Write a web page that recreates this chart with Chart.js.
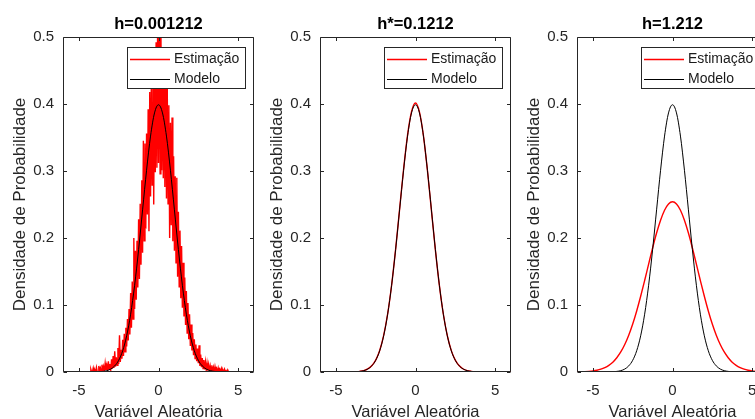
<!DOCTYPE html>
<html>
<head>
<meta charset="utf-8">
<script src="https://cdn.jsdelivr.net/npm/chart.js@4.4.1/dist/chart.umd.min.js"></script>
<style>
  html, body { margin: 0; padding: 0; background: #fff; }
  body { width: 755px; height: 419px; overflow: hidden; position: relative; }
  canvas { position: absolute; top: 0; }
</style>
</head>
<body>
<canvas id="c1" width="260" height="430" style="left:0px"></canvas>
<canvas id="c2" width="260" height="430" style="left:257px"></canvas>
<canvas id="c3" width="260" height="430" style="left:514px"></canvas>
<script>
// panel titles and legend names
const titles = ['h=0.001212', 'h*=0.1212', 'h=1.212'];
const seriesNames = ['Estimação', 'Modelo'];

// ticks
const xTicks = [-5, 0, 5];
const xTickLabels = ['-5', '0', '5'];
const yTicks = [0, 0.1, 0.2, 0.3, 0.4, 0.5];
const yTickLabels = ['0', '0.1', '0.2', '0.3', '0.4', '0.5'];

// coarse grid used by the smooth curves
const xGrid = [-6, -5.75, -5.5, -5.25, -5, -4.75, -4.5, -4.25, -4, -3.75, -3.5, -3.25,
  -3, -2.75, -2.5, -2.25, -2, -1.75, -1.5, -1.25, -1, -0.75, -0.5, -0.25, 0,
  0.25, 0.5, 0.75, 1, 1.25, 1.5, 1.75, 2, 2.25, 2.5, 2.75, 3, 3.25, 3.5, 3.75,
  4, 4.25, 4.5, 4.75, 5, 5.25, 5.5, 5.75, 6];

// Modelo (same curve in all three panels)
const modelPdf = [0, 0, 0, 0, 0, 0, 0, 0, 0.0001, 0.0004, 0.0009, 0.0020,
  0.0044, 0.0091, 0.0175, 0.0317, 0.0540, 0.0863, 0.1295, 0.1826, 0.2420, 0.3011, 0.3521, 0.3867, 0.3989,
  0.3867, 0.3521, 0.3011, 0.2420, 0.1826, 0.1295, 0.0863, 0.0540, 0.0317, 0.0175, 0.0091, 0.0044, 0.0020, 0.0009, 0.0004,
  0.0001, 0, 0, 0, 0, 0, 0, 0, 0];

// Estimação, h*=0.1212
const estimMid = [0, 0, 0, 0, 0, 0, 0, 0, 0.0002, 0.0005, 0.0010, 0.0021,
  0.0046, 0.0094, 0.0178, 0.0321, 0.0546, 0.0866, 0.1298, 0.1830, 0.2428, 0.3022, 0.3535, 0.3885, 0.4015,
  0.3880, 0.3525, 0.3008, 0.2412, 0.1820, 0.1292, 0.0862, 0.0541, 0.0319, 0.0177, 0.0093, 0.0045, 0.0021, 0.0010, 0.0004,
  0.0002, 0, 0, 0, 0, 0, 0, 0, 0];

// Estimação, h=1.212
const estimWide = [0.0002, 0.0003, 0.0006, 0.0010, 0.0016, 0.0026, 0.0042, 0.0066, 0.0100, 0.0147, 0.0213, 0.0299,
  0.0410, 0.0549, 0.0716, 0.0911, 0.1130, 0.1366, 0.1610, 0.1851, 0.2074, 0.2266, 0.2415, 0.2508, 0.2540,
  0.2508, 0.2415, 0.2266, 0.2074, 0.1851, 0.1610, 0.1366, 0.1130, 0.0911, 0.0716, 0.0549, 0.0410, 0.0299, 0.0213, 0.0147,
  0.0100, 0.0066, 0.0042, 0.0026, 0.0016, 0.0010, 0.0006, 0.0003, 0.0002];

// fine grid for the noisy estimate
const xFine = [
  -4.30, -4.25, -4.20, -4.15, -4.10, -4.05, -4.00, -3.95, -3.90, -3.85,
  -3.80, -3.75, -3.70, -3.65, -3.60, -3.55, -3.50, -3.45, -3.40, -3.35,
  -3.30, -3.25, -3.20, -3.15, -3.10, -3.05, -3.00, -2.95, -2.90, -2.85,
  -2.80, -2.75, -2.70, -2.65, -2.60, -2.55, -2.50, -2.45, -2.40, -2.35,
  -2.30, -2.25, -2.20, -2.15, -2.10, -2.05, -2.00, -1.95, -1.90, -1.85,
  -1.80, -1.75, -1.70, -1.65, -1.60, -1.55, -1.50, -1.45, -1.40, -1.35,
  -1.30, -1.25, -1.20, -1.15, -1.10, -1.05, -1.00, -0.95, -0.90, -0.85,
  -0.80, -0.75, -0.70, -0.65, -0.60, -0.55, -0.50, -0.45, -0.40, -0.35,
  -0.30, -0.25, -0.20, -0.15, -0.10, -0.05, 0.00, 0.05, 0.10, 0.15,
  0.20, 0.25, 0.30, 0.35, 0.40, 0.45, 0.50, 0.55, 0.60, 0.65,
  0.70, 0.75, 0.80, 0.85, 0.90, 0.95, 1.00, 1.05, 1.10, 1.15,
  1.20, 1.25, 1.30, 1.35, 1.40, 1.45, 1.50, 1.55, 1.60, 1.65,
  1.70, 1.75, 1.80, 1.85, 1.90, 1.95, 2.00, 2.05, 2.10, 2.15,
  2.20, 2.25, 2.30, 2.35, 2.40, 2.45, 2.50, 2.55, 2.60, 2.65,
  2.70, 2.75, 2.80, 2.85, 2.90, 2.95, 3.00, 3.05, 3.10, 3.15,
  3.20, 3.25, 3.30, 3.35, 3.40, 3.45, 3.50, 3.55, 3.60, 3.65,
  3.70, 3.75, 3.80, 3.85, 3.90, 3.95, 4.00, 4.05, 4.10, 4.15,
  4.20, 4.25, 4.30, 4.35, 4.40];

// Estimação, h=0.001212 (very noisy)
const estimNarrow = [
  0.000, 0.004, 0.000, 0.000, 0.006, 0.000, 0.003, 0.000, 0.007, 0.001,
  0.000, 0.009, 0.002, 0.006, 0.001, 0.011, 0.002, 0.008, 0.001, 0.013,
  0.003, 0.010, 0.002, 0.016, 0.004, 0.012, 0.003, 0.019, 0.005, 0.024,
  0.006, 0.031, 0.008, 0.022, 0.010, 0.036, 0.012, 0.055, 0.015, 0.033,
  0.020, 0.048, 0.024, 0.057, 0.030, 0.066, 0.038, 0.079, 0.047, 0.094,
  0.056, 0.118, 0.066, 0.135, 0.079, 0.200, 0.094, 0.181, 0.108, 0.196,
  0.126, 0.228, 0.139, 0.251, 0.160, 0.286, 0.178, 0.345, 0.196, 0.341,
  0.214, 0.356, 0.235, 0.392, 0.210, 0.418, 0.262, 0.437, 0.279, 0.455,
  0.250, 0.478, 0.298, 0.492, 0.305, 0.546, 0.312, 0.562, 0.296, 0.521,
  0.301, 0.470, 0.289, 0.462, 0.276, 0.470, 0.259, 0.426, 0.251, 0.398,
  0.200, 0.372, 0.219, 0.380, 0.195, 0.322, 0.181, 0.292, 0.163, 0.290,
  0.142, 0.239, 0.127, 0.211, 0.110, 0.188, 0.096, 0.163, 0.083, 0.141,
  0.070, 0.121, 0.058, 0.103, 0.049, 0.086, 0.039, 0.071, 0.032, 0.058,
  0.025, 0.049, 0.020, 0.041, 0.016, 0.035, 0.013, 0.040, 0.009, 0.026,
  0.007, 0.021, 0.005, 0.018, 0.004, 0.015, 0.003, 0.013, 0.002, 0.011,
  0.002, 0.009, 0.001, 0.010, 0.001, 0.007, 0.000, 0.008, 0.001, 0.005,
  0.000, 0.006, 0.000, 0.004, 0.000, 0.005, 0.000, 0.003, 0.000, 0.004,
  0.000, 0.002, 0.000, 0.003, 0.000];

const fontFamily = "'Liberation Sans', Arial, Helvetica, sans-serif";
const axisColor = '#262626';
Chart.defaults.font.family = fontFamily;

function toPoints(xs, ys) {
  return xs.map((x, i) => ({ x: x, y: ys[i] }));
}

// box around the axes + inward ticks on all four sides (matlab look)
const frameTicks = {
  id: 'frameTicks',
  afterDatasetsDraw(chart) {
    const { ctx, chartArea: a, scales } = chart;
    const tl = 3.5;
    ctx.save();
    ctx.strokeStyle = axisColor;
    ctx.lineWidth = 1;
    ctx.beginPath();
    const L = Math.round(a.left) + 0.5, R = Math.round(a.right) - 0.5;
    const T = Math.round(a.top) + 0.5, B = Math.round(a.bottom) - 0.5;
    ctx.rect(L, T, R - L, B - T);
    xTicks.forEach(v => {
      const px = Math.round(scales.x.getPixelForValue(v)) + 0.5;
      ctx.moveTo(px, B); ctx.lineTo(px, B - tl);
      ctx.moveTo(px, T); ctx.lineTo(px, T + tl);
    });
    yTicks.forEach(v => {
      const py = Math.round(scales.y.getPixelForValue(v)) + 0.5;
      ctx.moveTo(L, py); ctx.lineTo(L + tl, py);
      ctx.moveTo(R, py); ctx.lineTo(R - tl, py);
    });
    ctx.stroke();
    ctx.restore();
  }
};

// legend box in the upper right corner of the axes
const boxLegend = {
  id: 'boxLegend',
  afterDraw(chart) {
    const { ctx, chartArea: a } = chart;
    const w = 118, h = 41;
    const left = Math.round(a.right) - 9 - w;
    const top = Math.round(a.top) + 10;
    ctx.save();
    ctx.fillStyle = '#fff';
    ctx.fillRect(left, top, w, h);
    ctx.strokeStyle = axisColor;
    ctx.lineWidth = 1;
    ctx.strokeRect(left + 0.5, top + 0.5, w, h);
    ctx.font = '14px ' + fontFamily;
    ctx.textBaseline = 'middle';
    ctx.textAlign = 'left';
    chart.data.datasets.forEach((ds, i) => {
      const yy = top + 12.5 + i * 20;
      ctx.strokeStyle = ds.borderColor;
      ctx.lineWidth = ds.legendWidth;
      ctx.beginPath();
      ctx.moveTo(left + 3, yy);
      ctx.lineTo(left + 43, yy);
      ctx.stroke();
      ctx.fillStyle = '#1a1a1a';
      ctx.fillText(ds.label, left + 47, yy);
    });
    ctx.restore();
  }
};

function makePanel(canvasId, title, estXs, estYs, smooth) {
  const estimation = {
    label: seriesNames[0],
    data: toPoints(estXs, estYs),
    borderColor: '#ff0000',
    borderWidth: smooth ? 1.4 : 1.4,
    legendWidth: 1.6,
    pointRadius: 0,
    tension: 0,
    cubicInterpolationMode: smooth ? 'monotone' : 'default',
    order: 1
  };
  const model = {
    label: seriesNames[1],
    data: toPoints(xGrid, modelPdf),
    borderColor: '#000000',
    borderWidth: 1,
    legendWidth: 1,
    pointRadius: 0,
    tension: 0,
    cubicInterpolationMode: 'monotone',
    order: 0
  };

  new Chart(document.getElementById(canvasId), {
    type: 'line',
    data: { datasets: [estimation, model] },
    options: {
      responsive: false,
      animation: false,
      devicePixelRatio: 1,
      events: [],
      layout: { padding: { left: 0, right: 6, top: 0, bottom: 0 } },
      plugins: {
        legend: { display: false },
        tooltip: { enabled: false },
        title: {
          display: true,
          text: title,
          fullSize: false,
          color: '#000',
          font: { size: 16.5, weight: 'bold' },
          padding: { top: 15, bottom: 2.2 }
        }
      },
      scales: {
        x: {
          type: 'linear',
          min: -6,
          max: 6,
          grid: { display: false, drawTicks: false },
          border: { display: false },
          afterBuildTicks: s => { s.ticks = xTicks.map(v => ({ value: v })); },
          afterFit: s => { s.height = 58; },
          ticks: {
            color: axisColor,
            font: { size: 15 },
            padding: 10,
            maxRotation: 0,
            autoSkip: false,
            callback: (v, i) => xTickLabels[i]
          },
          title: {
            display: true,
            text: 'Variável Aleatória',
            color: axisColor,
            font: { size: 16.5 },
            padding: { top: 0, bottom: 8 }
          }
        },
        y: {
          type: 'linear',
          min: 0,
          max: 0.5,
          grid: { display: false, drawTicks: false },
          border: { display: false },
          afterBuildTicks: s => { s.ticks = yTicks.map(v => ({ value: v })); },
          afterFit: s => { s.width = 63; },
          ticks: {
            color: axisColor,
            font: { size: 15 },
            padding: 9,
            autoSkip: false,
            callback: (v, i) => yTickLabels[i]
          },
          title: {
            display: true,
            text: 'Densidade de Probabilidade',
            color: axisColor,
            font: { size: 17 },
            padding: { top: 10, bottom: 0 }
          }
        }
      }
    },
    plugins: [frameTicks, boxLegend]
  });
}

makePanel('c1', titles[0], xFine, estimNarrow, false);
makePanel('c2', titles[1], xGrid, estimMid, true);
makePanel('c3', titles[2], xGrid, estimWide, true);
</script>
</body>
</html>
